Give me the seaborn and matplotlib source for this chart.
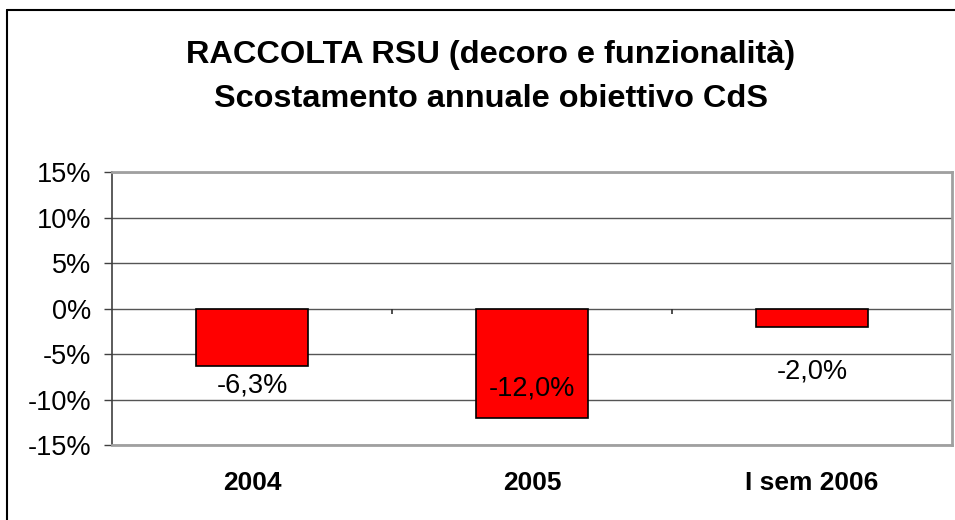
import matplotlib.pyplot as plt
import matplotlib.lines as mlines
import pandas as pd
import seaborn as sns

categories = ['2004', '2005', 'I sem 2006']
values = [-6.3, -12.0, -2.0]
value_labels = ['-6,3%', '-12,0%', '-2,0%']
y_ticks = [15, 10, 5, 0, -5, -10, -15]

title_1 = 'RACCOLTA RSU (decoro e funzionalità)'
title_2 = 'Scostamento annuale obiettivo CdS'

data = pd.DataFrame({'Periodo': categories, 'Scostamento': values})

sns.set_style('white')
plt.rcParams['font.family'] = ['Liberation Sans', 'DejaVu Sans']
plt.rcParams['text.color'] = 'black'
plt.rcParams['xtick.color'] = 'black'
plt.rcParams['ytick.color'] = 'black'

fig = plt.figure(figsize=(9.55, 5.2), dpi=100)
ax = fig.add_axes([0.1173, 0.1442, 0.8796, 0.525])

sns.barplot(x='Periodo', y='Scostamento', data=data, color='#ff0000',
            width=0.4, edgecolor='black', linewidth=1.2, saturation=1, ax=ax)

# label offsets from each bar end (points)
label_offsets = [-14, 21, -32]
for i, (v, lab) in enumerate(zip(values, value_labels)):
    ax.annotate(lab, (i, v), xytext=(0, label_offsets[i]), textcoords='offset points',
                ha='center', va='center', fontsize=19.5, color='black')

ax.set_ylim(-15, 15)
ax.set_xlim(-0.5, 2.5)
ax.set_yticks(y_ticks)
ax.set_yticklabels([f'{t}%' for t in y_ticks], fontsize=19.5)
ax.set_xticks(range(len(categories)))
ax.set_xticklabels(categories, fontsize=19, fontweight='bold')
ax.tick_params(axis='x', length=0, pad=19)
ax.tick_params(axis='y', length=6, width=1, color='#404040', direction='out', pad=9, left=True)
ax.set_xlabel('')
ax.set_ylabel('')

for t in y_ticks:
    ax.axhline(t, color='#555555', linewidth=1, zorder=0)

# category separator ticks on the zero line
ax.vlines([0.5, 1.5], -0.6, 0, color='#303030', linewidth=1.2)

for side in ['top', 'right', 'bottom']:
    ax.spines[side].set_color('#a0a0a0')
    ax.spines[side].set_linewidth(2)
ax.spines['left'].set_color('#404040')
ax.spines['left'].set_linewidth(1.2)

fig.text(0.514, 1 - 55 / 520, title_1, ha='center', va='center', fontsize=23.4, fontweight='bold')
fig.text(0.514, 1 - 99 / 520, title_2, ha='center', va='center', fontsize=23.4, fontweight='bold')

# chart border (top and left visible)
fig.add_artist(mlines.Line2D([7 / 955, 1], [1 - 10 / 520, 1 - 10 / 520], color='black', linewidth=1.5))
fig.add_artist(mlines.Line2D([7 / 955, 7 / 955], [0, 1 - 10 / 520], color='black', linewidth=1.5))

plt.savefig('out.png', dpi=100)
